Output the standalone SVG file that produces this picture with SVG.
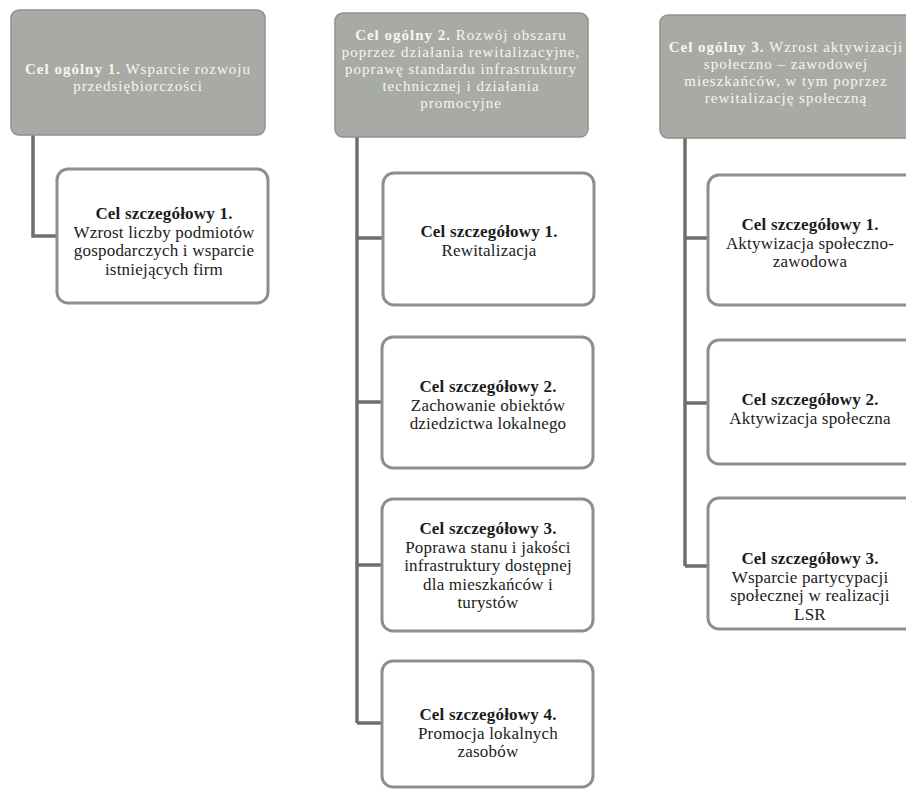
<svg xmlns="http://www.w3.org/2000/svg" width="906" height="790" viewBox="0 0 906 790">
<style>
.hdr{fill:#a8aaa5;stroke:#8f918c;stroke-width:1.5}
.box{fill:#ffffff;stroke:#8e8e8c;stroke-width:3}
.ht{font-family:"Liberation Serif","DejaVu Serif",serif;font-size:15px;letter-spacing:1px;fill:#f6f6f2;text-anchor:middle}
.bt{font-family:"Liberation Serif","DejaVu Serif",serif;font-size:17px;letter-spacing:0.2px;fill:#1c1c1c;text-anchor:middle}
.b{font-weight:bold}
.con{fill:none;stroke:#6e6e6c;stroke-width:3.5}
</style>
<rect width="906" height="790" fill="#ffffff"/>
<g id="connectors">
<path class="con" d="M33,135 V236 H57"/>
<path class="con" d="M357,137 V723 M357,238 H383 M357,402 H383 M357,565 H383 M357,723 H383"/>
<path class="con" d="M685,138 V566 M685,238 H708 M685,403 H708 M685,566 H708"/>
</g>
<g id="goal1">
<rect class="hdr" x="11" y="10" width="254" height="125" rx="8"/>
<text class="ht" x="138" y="74"><tspan font-weight="bold">Cel ogólny 1.</tspan> Wsparcie rozwoju</text>
<text class="ht" x="138" y="91">przedsiębiorczości</text>
</g>
<g id="goal1-1">
<rect class="box" x="57" y="169" width="211" height="134" rx="11"/>
<text class="bt b" x="164" y="219">Cel szczegółowy 1.</text>
<text class="bt" x="164" y="237.5">Wzrost liczby podmiotów</text>
<text class="bt" x="164" y="256">gospodarczych i wsparcie</text>
<text class="bt" x="164" y="274.5">istniejących firm</text>
</g>
<g id="goal2">
<rect class="hdr" x="335" y="13" width="253" height="124" rx="8"/>
<text class="ht" x="461" y="40"><tspan font-weight="bold">Cel ogólny 2.</tspan> Rozwój obszaru</text>
<text class="ht" x="461" y="57">poprzez działania rewitalizacyjne,</text>
<text class="ht" x="461" y="74">poprawę standardu infrastruktury</text>
<text class="ht" x="461" y="91">technicznej i działania</text>
<text class="ht" x="461" y="108">promocyjne</text>
</g>
<g id="goal2-1">
<rect class="box" x="383" y="173" width="211" height="132" rx="11"/>
<text class="bt b" x="489" y="237">Cel szczegółowy 1.</text>
<text class="bt" x="489" y="255.5">Rewitalizacja</text>
</g>
<g id="goal2-2">
<rect class="box" x="382" y="337" width="211" height="131" rx="11"/>
<text class="bt b" x="488" y="392">Cel szczegółowy 2.</text>
<text class="bt" x="488" y="410.5">Zachowanie obiektów</text>
<text class="bt" x="488" y="429">dziedzictwa lokalnego</text>
</g>
<g id="goal2-3">
<rect class="box" x="382" y="499" width="211" height="132" rx="11"/>
<text class="bt b" x="488" y="534">Cel szczegółowy 3.</text>
<text class="bt" x="488" y="552.5">Poprawa stanu i jakości</text>
<text class="bt" x="488" y="571">infrastruktury dostępnej</text>
<text class="bt" x="488" y="589.5">dla mieszkańców i</text>
<text class="bt" x="488" y="608">turystów</text>
</g>
<g id="goal2-4">
<rect class="box" x="382" y="661" width="211" height="126" rx="11"/>
<text class="bt b" x="488" y="720">Cel szczegółowy 4.</text>
<text class="bt" x="488" y="738.5">Promocja lokalnych</text>
<text class="bt" x="488" y="757">zasobów</text>
</g>
<g id="goal3">
<rect class="hdr" x="660" y="15" width="256" height="123" rx="8"/>
<text class="ht" x="786" y="51.5"><tspan font-weight="bold">Cel ogólny 3.</tspan> Wzrost aktywizacji</text>
<text class="ht" x="786" y="68.5">społeczno – zawodowej</text>
<text class="ht" x="786" y="85.5">mieszkańców, w tym poprzez</text>
<text class="ht" x="786" y="102.5">rewitalizację społeczną</text>
</g>
<g id="goal3-1">
<rect class="box" x="708" y="175" width="210" height="130" rx="11"/>
<text class="bt b" x="810" y="230">Cel szczegółowy 1.</text>
<text class="bt" x="810" y="248.5">Aktywizacja społeczno-</text>
<text class="bt" x="810" y="267">zawodowa</text>
</g>
<g id="goal3-2">
<rect class="box" x="708" y="340" width="210" height="124" rx="11"/>
<text class="bt b" x="810" y="405">Cel szczegółowy 2.</text>
<text class="bt" x="810" y="423.5">Aktywizacja społeczna</text>
</g>
<g id="goal3-3">
<rect class="box" x="708" y="498" width="210" height="131" rx="11"/>
<text class="bt b" x="810" y="564">Cel szczegółowy 3.</text>
<text class="bt" x="810" y="582.5">Wsparcie partycypacji</text>
<text class="bt" x="810" y="601">społecznej w realizacji</text>
<text class="bt" x="810" y="619.5">LSR</text>
</g>
</svg>
